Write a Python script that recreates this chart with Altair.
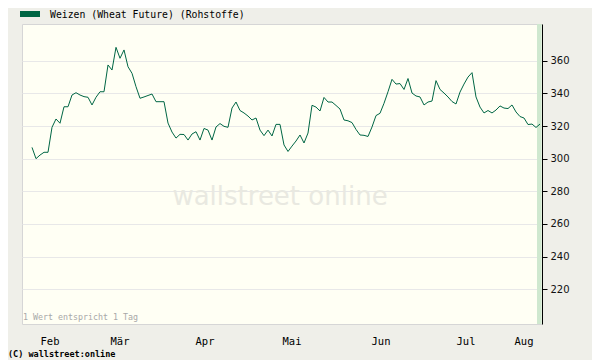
import altair as alt
import pandas as pd

# ---- data ----
prices = [
    306.9, 300.0, 302.2, 303.9, 303.9, 319.2, 324.3, 321.7, 331.8, 331.8,
    339.0, 340.4, 339.0, 338.0, 337.6, 332.9, 337.6, 341.0, 341.0, 357.4,
    354.3, 368.2, 361.5, 366.6, 356.3, 352.3, 344.1, 337.0, 337.8, 338.7,
    339.6, 334.9, 334.9, 334.9, 321.8, 316.3, 312.6, 314.9, 314.8, 311.4,
    315.1, 316.5, 311.4, 318.5, 317.5, 311.4, 319.4, 321.5, 319.8, 319.2,
    331.0, 334.7, 329.5, 328.0, 326.1, 323.7, 324.9, 317.5, 314.1, 317.5,
    313.9, 321.0, 321.0, 308.4, 304.4, 307.7, 310.8, 314.5, 309.6, 315.7,
    332.7, 331.6, 329.2, 337.5, 334.7, 334.7, 332.6, 330.4, 323.7, 323.2,
    322.1, 317.9, 314.5, 314.3, 313.6, 319.4, 326.4, 327.8, 333.9, 341.0,
    348.6, 345.7, 346.0, 342.4, 349.1, 340.2, 338.4, 337.8, 332.9, 334.7,
    335.3, 347.8, 342.4, 340.2, 337.8, 335.0, 333.5, 340.8, 345.7, 350.0,
    352.7, 337.8, 331.6, 328.0, 329.5, 328.0, 329.8, 332.3, 331.0, 330.7,
    332.9, 328.6, 325.8, 324.9, 320.9, 321.2, 319.1, 321.2,
]
day_idx = list(range(len(prices)))

month_start_idx = [10.75, 33.5, 54.5, 76.5, 98.25, 119.25]
month_names = ["Feb", "Mär", "Apr", "Mai", "Jun", "Jul", "Aug"]
month_label_idx = [4.5, 22, 43.25, 65, 87.25, 108.5, 123]
y_ticks = [220, 240, 260, 280, 300, 320, 340, 360]
x_domain = [-2.5, 127.5]
y_domain = [198.7, 382.5]
today_band = [126.25, 127.4]

legend_text = "Weizen (Wheat Future) (Rohstoffe)"
note_text = "1 Wert entspricht 1 Tag"
copyright_text = "(C) wallstreet:online"
watermark_text = "wallstreet online"

W, H = 520, 300
GREEN = "#006644"
MONO = "DejaVu Sans Mono"

xs = alt.Scale(domain=x_domain, nice=False, zero=False)
ys = alt.Scale(domain=y_domain, nice=False, zero=False)

df = pd.DataFrame({"i": day_idx, "v": prices})

band = alt.Chart(pd.DataFrame({"a": [today_band[0]], "b": [today_band[1]]})).mark_rect(
    color="#cfe8cf"
).encode(
    x=alt.X("a:Q", scale=xs, axis=None),
    x2="b:Q",
    y=alt.value(0),
    y2=alt.value(H),
)

watermark = alt.Chart(pd.DataFrame({"t": [watermark_text]})).mark_text(
    font="DejaVu Sans", fontSize=26, color="#e9e9e1", align="center", baseline="middle"
).encode(text="t:N", x=alt.value(258), y=alt.value(173))

line = alt.Chart(df).mark_line(color=GREEN, strokeWidth=1, clip=True).encode(
    x=alt.X(
        "i:Q",
        scale=xs,
        axis=alt.Axis(
            values=month_start_idx,
            labels=False,
            title=None,
            tickSize=5,
            tickColor="black",
            domainColor="black",
            grid=True,
            gridColor="#e8e8e8",
        ),
    ),
    y=alt.Y(
        "v:Q",
        scale=ys,
        axis=alt.Axis(
            orient="right",
            values=y_ticks,
            title=None,
            tickSize=5,
            tickColor="black",
            domainColor="black",
            labelPadding=3,
            labelFont="DejaVu Sans",
            labelFontSize=10,
            labelColor="#111111",
            grid=True,
            gridColor="#e8e8e8",
        ),
    ),
)

months = alt.Chart(pd.DataFrame({"i": month_label_idx, "m": month_names})).mark_text(
    font=MONO, fontSize=10.5, color="black", align="center", baseline="middle"
).encode(x=alt.X("i:Q", scale=xs, axis=None), y=alt.value(H + 18), text="m:N")

legend_swatch = alt.Chart(pd.DataFrame({"t": [legend_text]})).mark_rect(color=GREEN).encode(
    x=alt.value(-2), x2=alt.value(18), y=alt.value(-13), y2=alt.value(-7)
)
legend_label = alt.Chart(pd.DataFrame({"t": [legend_text]})).mark_text(
    font=MONO, fontSize=9.8, color="black", align="left", baseline="middle"
).encode(text="t:N", x=alt.value(28), y=alt.value(-9.5))

note = alt.Chart(pd.DataFrame({"t": [note_text]})).mark_text(
    font=MONO, fontSize=8.3, color="#a8a8a8", align="left", baseline="middle"
).encode(text="t:N", x=alt.value(1), y=alt.value(293.5))

copyright_ = alt.Chart(pd.DataFrame({"t": [copyright_text]})).mark_text(
    font=MONO, fontSize=8.5, fontWeight="bold", color="black", align="left", baseline="middle"
).encode(text="t:N", x=alt.value(-14), y=alt.value(330))

chart = (
    alt.layer(band, watermark, line, months, legend_swatch, legend_label, note, copyright_)
    .properties(
        width=W,
        height=H,
        autosize=alt.AutoSizeParams(type="none"),
        padding={"left": 14, "top": 16, "right": 50, "bottom": 36},
        background="#efefe9",
    )
    .configure_view(stroke="#d6d6d6", fill="#fffff4")
)

chart.save("out.html", embed_options={"renderer": "svg", "actions": False})
